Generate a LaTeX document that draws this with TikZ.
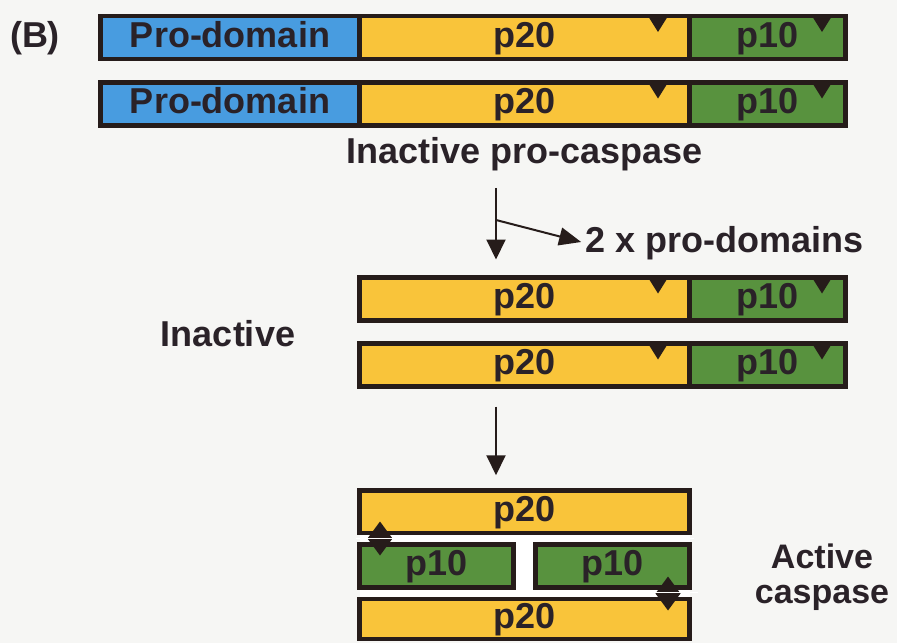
\documentclass[tikz,border=0pt]{standalone}
\usepackage{fontspec}
\setmainfont{Liberation Sans}
\usetikzlibrary{arrows.meta,positioning}
\definecolor{prob}{RGB}{72,156,224}
\definecolor{bigsub}{RGB}{249,196,58}
\definecolor{smallsub}{RGB}{88,146,62}
\definecolor{edge}{RGB}{38,28,26}
\definecolor{ink}{RGB}{42,34,40}
\definecolor{paper}{RGB}{246,246,244}

\tikzset{
  seg/.style={draw=edge, line width=4.5pt, inner sep=0pt, outer sep=0pt,
    minimum height=43pt, text height=26pt, text depth=7pt, text=ink,
    font=\bfseries\fontsize{36}{40}\selectfont},
  pro/.style={seg, fill=prob, minimum width=259pt},
  big/.style={seg, fill=bigsub, minimum width=330pt},
  small/.style={seg, fill=smallsub, minimum width=156pt},
  half/.style={seg, fill=smallsub, minimum width=154pt},
  lbl/.style={text=ink, inner sep=0pt, font=\bfseries\fontsize{36}{40}\selectfont},
  arr/.style={draw=edge, line width=2pt, -{Triangle[length=20pt,width=19pt]}},
}
% cleavage site on top of a subunit
\newcommand{\notch}[2]{\fill[edge] ([xshift=-#2]#1.north east) +(-10,0) -- +(10,0) -- +(0,16) -- cycle;}
% active site marker
\newcommand{\site}[1]{\fill[edge] (#1) +(-12.5,0) -- +(0,-17) -- +(12.5,0) -- +(0,17) -- cycle;}

\begin{document}
\begin{tikzpicture}[x=1pt, y=-1pt]
\fill[paper] (0,0) rectangle (897,643);
\useasboundingbox (0,0) rectangle (897,643);

\node[lbl] (tag) at (35,38) {(B)};

% pro-caspase, two chains
\node[pro] (pd1) at (230,37.5) {Pro-domain};
\node[big, right=0pt of pd1] (a20) {p20};
\node[small, right=0pt of a20] (a10) {p10};
\node[pro] (pd2) at (230,104) {Pro-domain};
\node[big, right=0pt of pd2] (b20) {p20};
\node[small, right=0pt of b20] (b10) {p10};
\foreach \n in {a,b} {
  \notch{\n20}{31.5pt}
  \notch{\n10}{23.5pt}
}
\node[lbl, below=11.5pt of b20] (casp) {Inactive pro-caspase};

% after the pro-domains are cut off
\node[big] (c20) at (524.5,299) {p20};
\node[small, right=0pt of c20] (c10) {p10};
\node[big] (d20) at (524.5,365) {p20};
\node[small, right=0pt of d20] (d10) {p10};
\foreach \n in {c,d} {
  \notch{\n20}{31.5pt}
  \notch{\n10}{23.5pt}
}
\node[lbl] (inact) at (228,334) {Inactive};
\node[lbl, anchor=west] (prod) at (585,243) {2 x pro-domains};

% active heterotetramer
\node[big, minimum height=42.5pt] (e20) at (524.5,511.5) {p20};
\node[half] (f10a) at (436.5,566) {p10};
\node[half] (f10b) at (612.5,566) {p10};
\node[big, minimum height=40pt] (g20) at (524.5,619) {p20};
\fill[white] ([xshift=2.25pt,yshift=-2.25pt]f10a.east |- e20.south)
  rectangle ([xshift=-2.25pt,yshift=2.25pt]f10b.west |- g20.north);
\fill[white] ([yshift=-2.25pt]e20.south west) rectangle ([yshift=2.25pt]f10b.north east);
\fill[white] ([yshift=-2.25pt]f10a.south west) rectangle ([yshift=2.25pt]g20.north east);
\site{[xshift=20.5pt]e20.west |- 0,538.5}
\site{[xshift=-21.5pt]f10b.east |- 0,593.5}
\draw[white, line width=0.6pt] (e20.south west) ++(-4,5.5) -- ++(338,0);
\draw[white, line width=0.6pt] (f10a.south west) ++(0,4.5) -- ++(338,0);
\node[lbl, align=center, font=\bfseries\fontsize{34}{35}\selectfont] (actv) at (822,577) {Active\\caspase};

% processing steps
\coordinate (fork) at (496,220);
\draw[arr, shorten <=17pt, shorten >=18pt] (fork |- casp.south) -- (fork |- c20.north);
\draw[arr, -{Triangle[length=22pt,width=18pt]}, shorten >=4pt] (fork) -- (prod.west);
\draw[arr, shorten <=20pt, shorten >=15pt] (fork |- d20.south) -- (fork |- e20.north);
\end{tikzpicture}
\end{document}
